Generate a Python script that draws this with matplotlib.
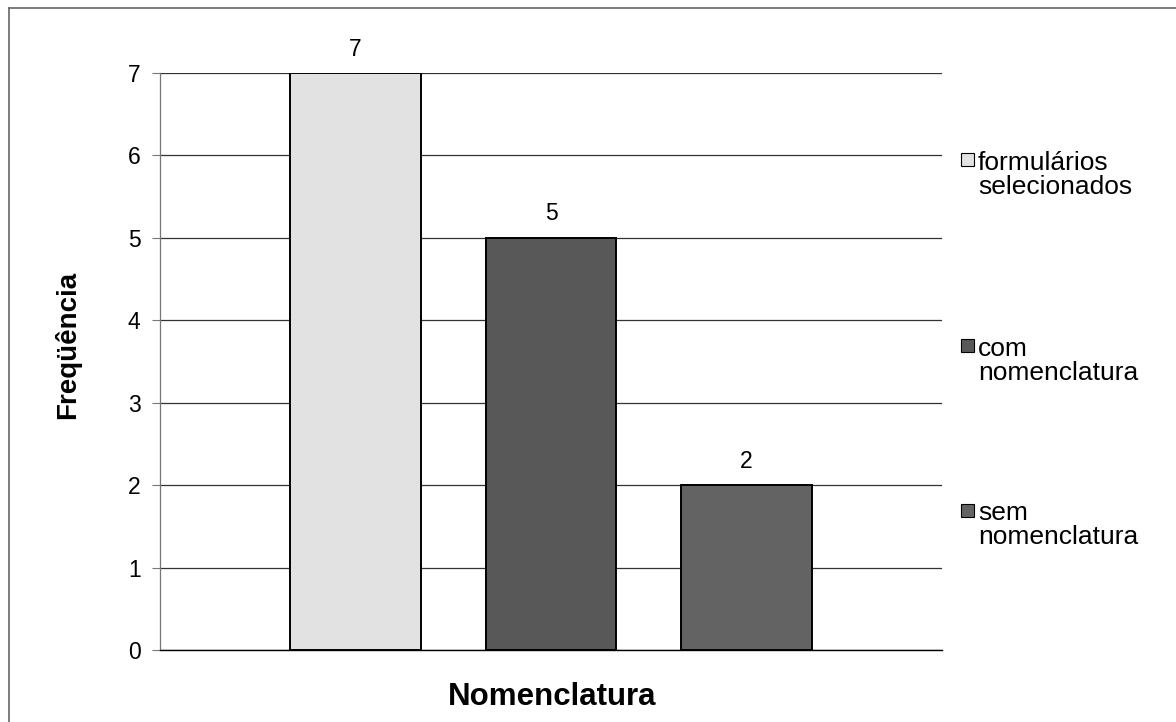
import matplotlib
matplotlib.use("Agg")
import matplotlib.pyplot as plt
from matplotlib.lines import Line2D
from matplotlib.patches import Rectangle

plt.rcParams['font.family'] = ['Liberation Sans', 'DejaVu Sans']

categories = ["formulários\nselecionados", "com\nnomenclatura", "sem\nnomenclatura"]
values = [7, 5, 2]
colors = ["#e2e2e2", "#585858", "#636363"]
y_ticks = [0, 1, 2, 3, 4, 5, 6, 7]

W, H = 1176, 722
fig = plt.figure(figsize=(W / 100, H / 100), dpi=100)
fig.patch.set_facecolor("white")

def px(x, y):
    return x / W, 1 - y / H

ax = fig.add_axes([160 / W, 1 - 650 / H, (942 - 160) / W, (650 - 73) / H])
x = list(range(len(values)))
bars = ax.bar(x, values, width=0.67, color=colors, edgecolor="black", linewidth=1.4, zorder=3)
ax.set_xlim(-1, 3)
ax.set_ylim(0, 7)
ax.set_yticks(y_ticks)
ax.set_yticklabels([str(t) for t in y_ticks], fontsize=16.5)
ax.set_xticks([])
ax.yaxis.grid(True, color="#333333", linewidth=0.9, zorder=0)
ax.set_axisbelow(True)
for s in ["top", "right"]:
    ax.spines[s].set_visible(False)
ax.spines["left"].set_color("#777777")
ax.spines["left"].set_linewidth(0.9)
ax.spines["bottom"].set_color("black")
ax.spines["bottom"].set_linewidth(1.0)
ax.tick_params(axis="y", length=6, width=0.8, color="#777777", pad=8)

for b, v in zip(bars, values):
    ax.annotate(str(v), (b.get_x() + b.get_width() / 2, v), xytext=(0, 9),
                textcoords="offset points", ha="center", va="bottom", fontsize=16.5)

# axis titles
fx, fy = px(68, 345)
fig.text(fx, fy, "Freqüência", fontsize=20, fontweight="bold", rotation=90,
         ha="center", va="center")
fx, fy = px(552, 697)
fig.text(fx, fy, "Nomenclatura", fontsize=22.5, fontweight="bold",
         ha="center", va="center")

# legend, placed manually
legend_first_line = [160, 346, 511]
legend_block_center = [175, 361, 525]
for (lab, c, ly, lc) in zip(categories, colors, legend_first_line, legend_block_center):
    fx, fy = px(961, ly + 6)
    sq = Rectangle((fx, fy), 13 / W, 13 / H, transform=fig.transFigure,
                   facecolor=c, edgecolor="black", linewidth=0.8)
    fig.add_artist(sq)
    tx, ty = px(978, lc)
    fig.text(tx, ty, lab, fontsize=19, ha="left", va="center",
             linespacing=1.05, multialignment="left")

# outer frame (left and top edges visible)
fig.add_artist(Line2D([9 / W, 9 / W], [1 - 8 / H, 0], transform=fig.transFigure,
                      color="#666666", linewidth=1.2))
fig.add_artist(Line2D([9 / W, 1], [1 - 8 / H, 1 - 8 / H], transform=fig.transFigure,
                      color="#666666", linewidth=1.2))

fig.savefig("out.png", dpi=100, facecolor="white")
